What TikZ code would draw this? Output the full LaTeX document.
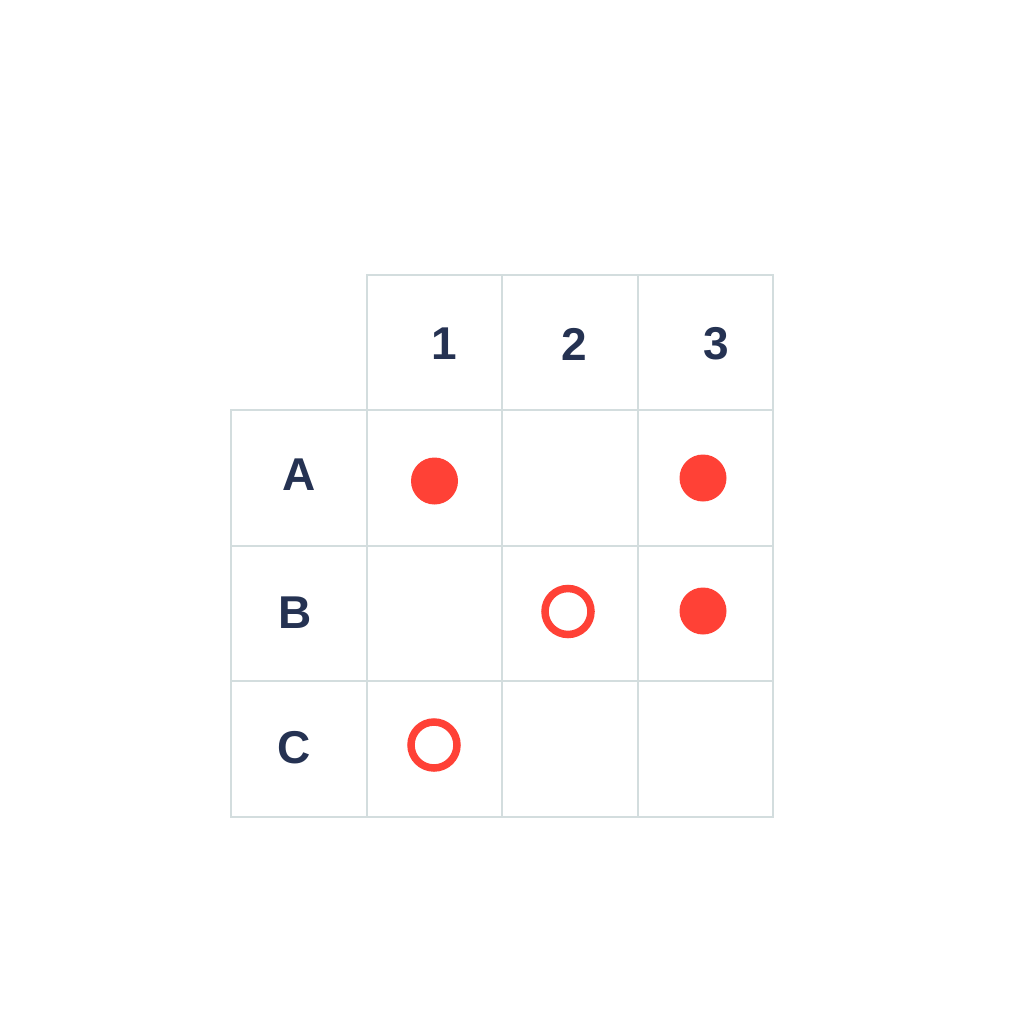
\documentclass[tikz,border=0pt]{standalone}
\usepackage{fontspec}
\setmainfont{Liberation Sans}
\definecolor{gridc}{HTML}{D3DDDE}
\definecolor{txt}{HTML}{253252}
\definecolor{dotc}{HTML}{FF4136}
\begin{document}
\begin{tikzpicture}[x=1pt,y=-1pt,
  gridline/.style={draw=gridc,line width=2pt},
  lbl/.style={text=txt,font=\fontsize{46}{50}\selectfont\bfseries,inner sep=0pt,anchor=center},
  filled/.style={circle,fill=dotc,minimum size=47pt,inner sep=0pt},
  hollow/.style={circle,draw=dotc,line width=7.5pt,minimum size=46pt,inner sep=0pt}]
\useasboundingbox[fill=white] (0,0) rectangle (1020,1020);
% grid
\draw[gridline] (367,275) rectangle (773,817);
\draw[gridline] (231,410) rectangle (367,817);
\draw[gridline] (502,275) -- (502,817);
\draw[gridline] (638,275) -- (638,817);
\draw[gridline] (231,410) -- (773,410);
\draw[gridline] (231,546) -- (773,546);
\draw[gridline] (231,681) -- (773,681);
% labels
\node[lbl] (c1) at (444,344) {1};
\node[lbl] (c2) at (574,344) {2};
\node[lbl] (c3) at (716,344) {3};
\node[lbl] (rA) at (299,475) {A};
\node[lbl] (rB) at (295,613) {B};
\node[lbl] (rC) at (294,748) {C};
% dots
\node[filled] (a1) at (434.5,481) {};
\node[filled] (a3) at (703,478) {};
\node[filled] (b3) at (703,611) {};
\node[hollow] (b2) at (568,611.5) {};
\node[hollow] (c1d) at (434,745) {};
\end{tikzpicture}
\end{document}
